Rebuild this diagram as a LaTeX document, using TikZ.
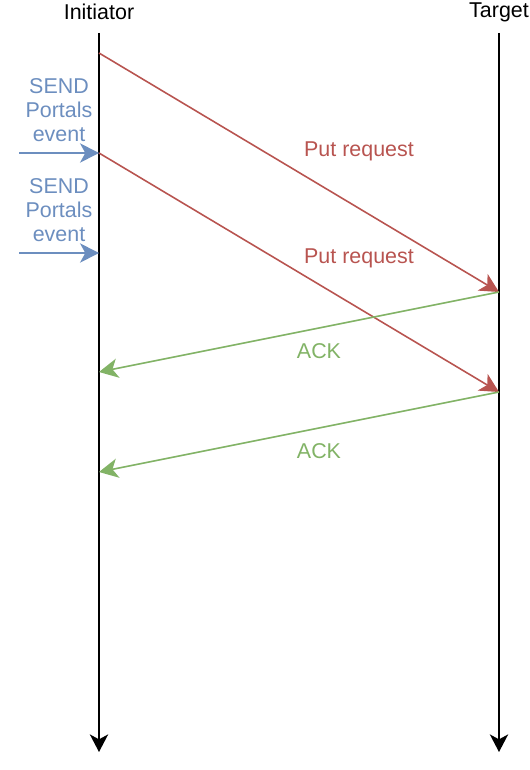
\documentclass[tikz,border=0pt]{standalone}
\usepackage{fontspec}
\setmainfont{Liberation Sans}
\usepackage{xcolor}
\usepackage{tikz}
\usetikzlibrary{arrows.meta}
\definecolor{putred}{HTML}{B85450}
\definecolor{ackgreen}{HTML}{82B366}
\definecolor{sendblue}{HTML}{6C8EBF}

\begin{document}
\begin{tikzpicture}[x=0.02cm,y=-0.02cm,font=\fontsize{12.2}{13.6}\selectfont,
  msg/.style={line width=0.9pt,-{Stealth[length=10.8pt,width=11pt,inset=3pt]}},
  life/.style={line width=1.1pt,-{Stealth[length=10pt,width=10.4pt,inset=2.8pt]}}]
  \useasboundingbox (0,0) rectangle (530,770);
  \node (init) at (99,12) {Initiator};
  \node (targ) at (499,12) {Target};
  \coordinate (itop) at (99,33);
  \coordinate (ibot) at (99,752);
  \coordinate (ttop) at (499,33);
  \coordinate (tbot) at (499,752);
  \draw[life] (itop) -- (ibot);
  \draw[life] (ttop) -- (tbot);
  \coordinate (put1s) at (99,53);
  \coordinate (put1e) at (499,292);
  \coordinate (put2s) at (99,153);
  \coordinate (put2e) at (499,392);
  \coordinate (ack1e) at (99,372);
  \coordinate (ack2e) at (99,472);
  \coordinate (send1s) at (19,153);
  \coordinate (send2s) at (19,253);
  \coordinate (send2e) at (99,253);
  \draw[msg,putred] (put1s) -- (put1e);
  \draw[msg,putred] (put2s) -- (put2e);
  \draw[msg,ackgreen] (put1e) -- (ack1e);
  \draw[msg,ackgreen] (put2e) -- (ack2e);
  \draw[msg,sendblue] (send1s) -- (put2s);
  \draw[msg,sendblue] (send2s) -- (send2e);
  \node[putred] (put1) at (359,151) {Put request};
  \node[putred] (put2) at (359,258) {Put request};
  \node[ackgreen] (ack1) at (319,351) {ACK};
  \node[ackgreen] (ack2) at (319,451) {ACK};
  \node[sendblue,align=center] (send1) at (59,110) {SEND\\Portals\\event};
  \node[sendblue,align=center] (send2) at (59,210) {SEND\\Portals\\event};
\end{tikzpicture}
\end{document}
